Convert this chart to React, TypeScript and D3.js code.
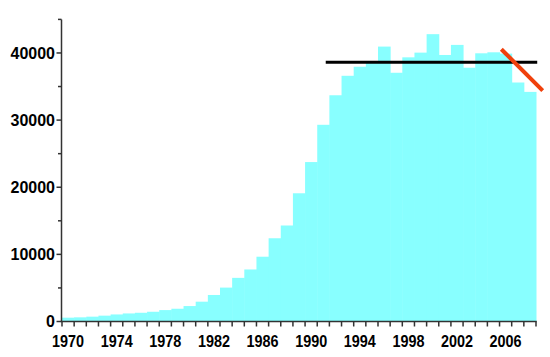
import React from "react";
import * as d3 from "d3";

const years: number[] = d3.range(1970, 2009);
const values: number[] = [
  570, 620, 720, 870, 1050, 1200, 1300, 1450, 1700, 1900,
  2300, 2950, 3950, 5050, 6500, 7750, 9650, 12400, 14300, 19100,
  23750, 29300, 33700, 36600, 37950, 38550, 40950, 37050, 39350, 40050,
  42800, 39700, 41200, 37800, 39950, 40100, 39900, 35600, 34200,
];
const yTicks: number[] = [0, 10000, 20000, 30000, 40000];
const yMinorTicks: number[] = [5000, 15000, 25000, 35000, 45000];
const xLabelYears: number[] = [1970, 1974, 1978, 1982, 1986, 1990, 1994, 1998, 2002, 2006];
// reference lines in (year, value) data space
const flatLine: [number, number][] = [[1991.7, 38600], [2009.1, 38600]];
const trendLine: [number, number][] = [[2006.15, 40550], [2009.55, 34380]];

export default function App() {
  const W = 550, H = 357;
  const x = d3.scaleLinear().domain([1970, 2009]).range([62, 536]);
  const y = d3.scaleLinear().domain([0, 45000]).range([321.5, 19.4]);
  const axisX = 61.5;
  const axisY = 321.5;
  const line = d3.line<[number, number]>().x(d => x(d[0])).y(d => y(d[1]));
  const font = "'Liberation Sans', Arial, Helvetica, sans-serif";

  return (
    <svg width={W} height={H} style={{ position: "absolute", left: 0, top: 0, background: "#fff" }}>
      {years.map((yr, i) => (
        <rect key={yr} x={x(yr)} y={y(values[i])} width={x(yr + 1) - x(yr) + 0.5}
          height={axisY - y(values[i])} fill="#88ffff" />
      ))}
      <path d={line(flatLine) || ""} stroke="#000" strokeWidth={3} fill="none" />
      <path d={line(trendLine) || ""} stroke="#f0400c" strokeWidth={4} fill="none" />
      {/* y axis */}
      <line x1={axisX} x2={axisX} y1={y(45000)} y2={axisY} stroke="#333" strokeWidth={1.5} />
      {yTicks.map(t => (
        <g key={t}>
          <line x1={axisX - 5} x2={axisX} y1={y(t)} y2={y(t)} stroke="#333" strokeWidth={1.5} />
          <text x={55} y={y(t)} dy="0.36em" textAnchor="end" fontFamily={font}
            fontWeight="bold" fontSize={16} fill="#000">{t}</text>
        </g>
      ))}
      {yMinorTicks.map(t => (
        <line key={t} x1={axisX - 3.5} x2={axisX} y1={y(t)} y2={y(t)} stroke="#333" strokeWidth={1.5} />
      ))}
      {/* x axis */}
      <line x1={axisX - 0.75} x2={x(2009) + 0.75} y1={axisY} y2={axisY} stroke="#333" strokeWidth={1.5} />
      {d3.range(1970, 2010).map(t => (
        <line key={t} x1={x(t)} x2={x(t)} y1={axisY} y2={axisY + 5} stroke="#333" strokeWidth={1.5} />
      ))}
      {xLabelYears.map(t => (
        <text key={t} transform={`translate(${x(t + 0.5)},${347}) scale(0.9,1.05)`}
          textAnchor="middle" fontFamily={font} fontWeight="bold" fontSize={16} fill="#000">{t}</text>
      ))}
    </svg>
  );
}
